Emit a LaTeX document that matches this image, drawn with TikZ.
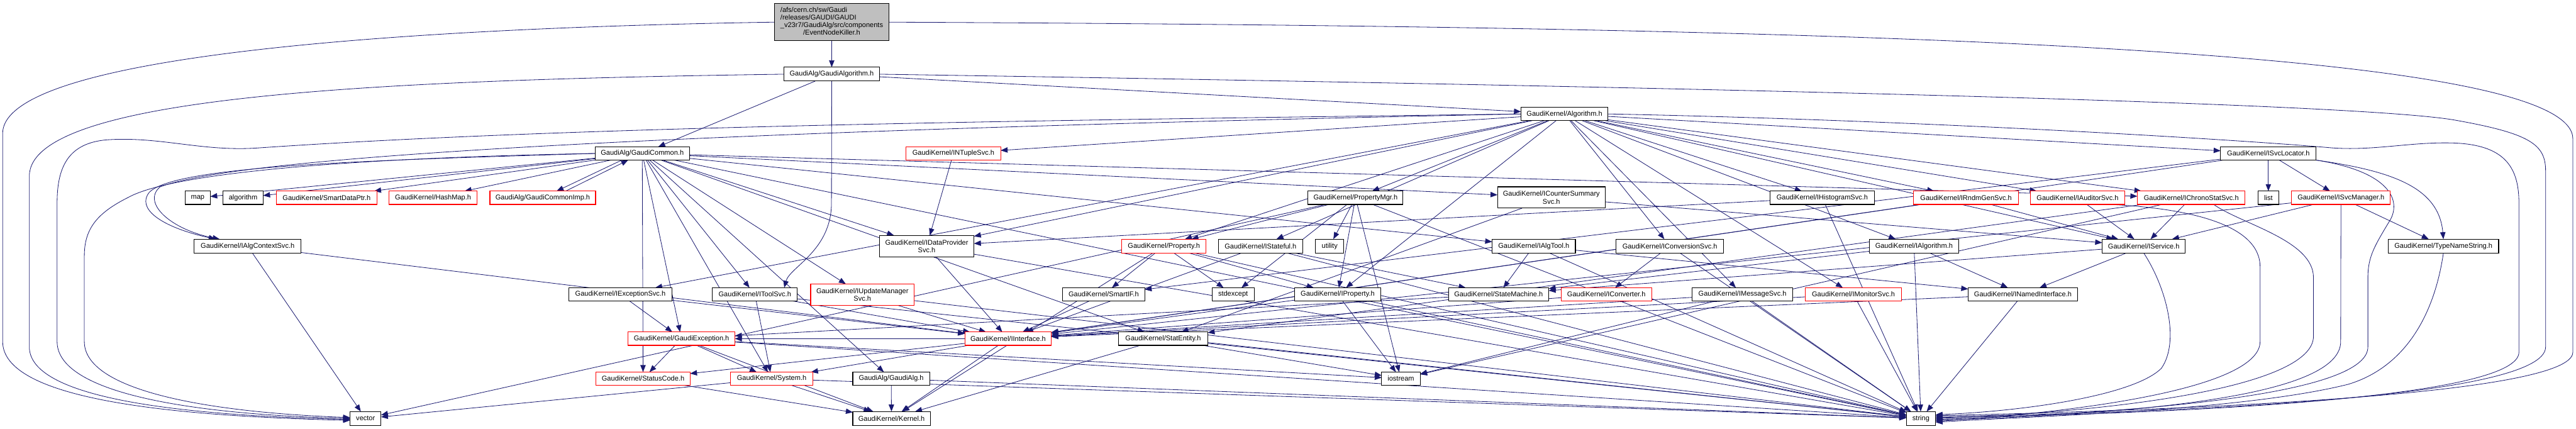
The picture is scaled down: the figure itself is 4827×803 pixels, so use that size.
\documentclass[tikz,border=0pt]{standalone}
\usepackage{fontspec}
\setmainfont{Liberation Sans}
\usetikzlibrary{arrows.meta}
\pgfdeclarelayer{bg}
\pgfsetlayers{bg,main}
\definecolor{edgec}{RGB}{25,25,112}
\definecolor{rootfill}{RGB}{191,191,191}
\newlength\pxu
\setlength\pxu{0.02cm}
\newcommand\gnode[7]{\node[#6, minimum width={#4*\pxu}, minimum height={#5*\pxu}] (#1) at (#2,#3) {#7};}
\newcommand\gedge[2]{\draw[edg] (#1) -- (#2);}
\begin{document}
\begin{tikzpicture}[x=0.02cm, y=-0.02cm,
  every node/.style={font=\fontsize{7.4pt}{8.2pt}\selectfont, inner sep=0pt, outer sep=0pt},
  gbox/.style={draw=black, line width=0.7pt, fill=white, rectangle, align=center},
  rbox/.style={draw=red, line width=0.7pt, fill=white, rectangle, align=center},
  rootbox/.style={draw=black, line width=0.7pt, fill=rootfill, rectangle},
  edg/.style={draw=edgec, line width=0.55pt, -{Triangle[length=0.26cm,width=0.2cm]}}]
\useasboundingbox (0,0) rectangle (4827,803);
% ---------- nodes ----------
\gnode{root}{1558.5}{41.5}{215}{69}{rootbox}{\begin{tabular}{@{}l@{}}/afs/cern.ch/sw/Gaudi\\/releases/GAUDI/GAUDI\\\_v23r7/GaudiAlg/src/components\\\multicolumn{1}{@{}c@{}}{/EventNodeKiller.h}\end{tabular}}
\gnode{galgm}{1558.5}{139}{179}{26}{gbox}{GaudiAlg/GaudiAlgorithm.h}
\gnode{algo}{2931.5}{213.5}{163}{25}{gbox}{GaudiKernel/Algorithm.h}
\gnode{gcommon}{1203.5}{287.5}{177}{25}{gbox}{GaudiAlg/GaudiCommon.h}
\gnode{intuple}{1786.5}{287.5}{177}{25}{rbox}{GaudiKernel/INTupleSvc.h}
\gnode{svcloc}{4250.5}{287.5}{179}{25}{gbox}{GaudiKernel/ISvcLocator.h}
\gnode{map}{370.5}{370.5}{47}{25}{gbox}{map}
\gnode{algorithm}{455.5}{370.5}{75}{25}{gbox}{algorithm}
\gnode{sdptr}{612}{370.5}{188}{25}{rbox}{GaudiKernel/SmartDataPtr.h}
\gnode{hashmap}{811.5}{370.5}{165}{25}{rbox}{GaudiKernel/HashMap.h}
\gnode{gcimp}{1017}{370.5}{198}{25}{rbox}{GaudiAlg/GaudiCommonImp.h}
\gnode{propmgr}{2540}{370.5}{178}{25}{gbox}{GaudiKernel/PropertyMgr.h}
\gnode{icounter}{2907}{370}{202}{40}{gbox}{GaudiKernel/ICounterSummary\\Svc.h}
\gnode{ihisto}{3414.5}{370.5}{195}{25}{gbox}{GaudiKernel/IHistogramSvc.h}
\gnode{irndm}{3684}{370.5}{196}{25}{rbox}{GaudiKernel/IRndmGenSvc.h}
\gnode{iaudit}{3893}{370.5}{176}{25}{rbox}{GaudiKernel/IAuditorSvc.h}
\gnode{ichrono}{4106}{370.5}{202}{25}{rbox}{GaudiKernel/IChronoStatSvc.h}
\gnode{list}{4250.5}{370.5}{39}{25}{gbox}{list}
\gnode{isvcmgr}{4386.5}{370.5}{185}{25}{rbox}{GaudiKernel/ISvcManager.h}
\gnode{ialgctx}{464}{461}{200}{26}{gbox}{GaudiKernel/IAlgContextSvc.h}
\gnode{idp}{1736.5}{461}{177}{40}{gbox}{GaudiKernel/IDataProvider\\Svc.h}
\gnode{prop}{2181}{461}{158}{26}{rbox}{GaudiKernel/Property.h}
\gnode{istateful}{2362}{461}{158}{26}{gbox}{GaudiKernel/IStateful.h}
\gnode{utility}{2491.5}{461}{53}{26}{gbox}{utility}
\gnode{ialgtool}{2874}{461}{156}{26}{gbox}{GaudiKernel/IAlgTool.h}
\gnode{iconvsvc}{3129}{461}{202}{26}{gbox}{GaudiKernel/IConversionSvc.h}
\gnode{ialgorithm}{3586.5}{461}{167}{26}{gbox}{GaudiKernel/IAlgorithm.h}
\gnode{iservice}{4017}{461}{156}{26}{gbox}{GaudiKernel/IService.h}
\gnode{tns}{4578.5}{461}{207}{26}{gbox}{GaudiKernel/TypeNameString.h}
\gnode{iexc}{1162.5}{551.5}{193}{25}{gbox}{GaudiKernel/IExceptionSvc.h}
\gnode{itool}{1414.5}{551.5}{159}{25}{gbox}{GaudiKernel/IToolSvc.h}
\gnode{iupd}{1616}{552}{194}{40}{rbox}{GaudiKernel/IUpdateManager\\Svc.h}
\gnode{smartif}{2068}{551.5}{154}{25}{gbox}{GaudiKernel/SmartIF.h}
\gnode{stdexcept}{2310.5}{551.5}{79}{25}{gbox}{stdexcept}
\gnode{iprop}{2506.5}{551.5}{161}{25}{gbox}{GaudiKernel/IProperty.h}
\gnode{statem}{2808}{551.5}{188}{25}{gbox}{GaudiKernel/StateMachine.h}
\gnode{iconv}{3010}{551.5}{170}{25}{rbox}{GaudiKernel/IConverter.h}
\gnode{imsg}{3265}{551.5}{188}{25}{gbox}{GaudiKernel/IMessageSvc.h}
\gnode{imon}{3473}{551.5}{180}{25}{rbox}{GaudiKernel/IMonitorSvc.h}
\gnode{inamed}{3790.5}{551.5}{205}{25}{gbox}{GaudiKernel/INamedInterface.h}
\gnode{gexc}{1277}{634.5}{200}{25}{rbox}{GaudiKernel/GaudiException.h}
\gnode{iiface}{1889}{634.5}{162}{25}{rbox}{GaudiKernel/IInterface.h}
\gnode{statent}{2179.5}{634.5}{167}{25}{gbox}{GaudiKernel/StatEntity.h}
\gnode{statusc}{1205}{709.5}{176}{25}{rbox}{GaudiKernel/StatusCode.h}
\gnode{system}{1446}{709.5}{154}{25}{rbox}{GaudiKernel/System.h}
\gnode{galg}{1670}{709.5}{144}{25}{gbox}{GaudiAlg/GaudiAlg.h}
\gnode{iostream}{2625}{709.5}{72}{25}{gbox}{iostream}
\gnode{vector}{685}{784}{58}{26}{gbox}{vector}
\gnode{kernel}{1670.5}{784}{145}{26}{gbox}{GaudiKernel/Kernel.h}
\gnode{string}{3599.5}{784}{55}{26}{gbox}{string}
% ---------- edges ----------
\begin{pgfonlayer}{bg}
% root
\gedge{root}{galgm}
\draw[edg] (root.west) .. controls (900,50) and (5,90) .. (5,250) -- (5,640) .. controls (5,745) and (300,779) .. ([yshift=-2pt]vector.west);
\draw[edg] (root.east) .. controls (3500,50) and (4821,90) .. (4821,260) -- (4821,660) .. controls (4821,740) and (4100,768) .. ([yshift=3pt]string.east);
% GaudiAlgorithm
\gedge{galgm}{gcommon}
\gedge{galgm}{algo}
\draw[edg] (galgm.west) .. controls (700,150) and (55,180) .. (55,330) -- (55,650) .. controls (55,745) and (330,778) .. ([yshift=-1pt]vector.west);
\draw[edg] (galgm.east) .. controls (3000,160) and (4400,190) .. (4600,225) .. controls (4740,250) and (4770,270) .. (4770,320) -- (4770,650) .. controls (4770,745) and (4100,772) .. ([yshift=2pt]string.east);
\draw[edg] (galgm.south) -- (1558,380) .. controls (1558,470) and (1480,500) .. ([xshift=1.1cm]itool.north);
% Algorithm
\foreach \h in {propmgr,ihisto,irndm,iaudit,ichrono,svcloc,intuple,idp,iexc,iprop,prop,istateful,ialgorithm,iservice,imsg,imon,iconvsvc} {\gedge{algo}{\h}}
\draw[edg] (algo.west) .. controls (1800,235) and (500,275) .. (300,350) .. controls (265,380) and (320,430) .. ([xshift=-1.05cm]ialgctx.north);
\draw[edg] (algo.west) .. controls (2000,225) and (1100,235) .. (486,277) .. controls (380,285) and (300,255) .. (200,262) .. controls (130,268) and (107,310) .. (107,380) -- (107,640) .. controls (107,735) and (350,776) .. (vector.west);
\draw[edg] (algo.east) .. controls (3600,225) and (4200,262) .. (4369,277) .. controls (4450,283) and (4520,265) .. (4600,268) .. controls (4690,272) and (4720,310) .. (4720,380) -- (4720,660) .. controls (4720,745) and (4100,775) .. ([yshift=1pt]string.east);
% GaudiCommon
\foreach \h in {map,algorithm,sdptr,hashmap,string,gexc,statusc,system,itool,idp,iupd,icounter,ichrono,statent,ialgtool,galg} {\gedge{gcommon}{\h}}
\draw[edg] ([xshift=-0.77cm]gcommon.south) -- ([xshift=0.52cm]gcimp.north);
\draw[edg] ([xshift=0.86cm]gcimp.north) -- ([xshift=-0.53cm]gcommon.south);
\draw[edg] (gcommon.west) .. controls (700,300) and (330,310) .. (280,360) .. controls (255,390) and (300,425) .. ([xshift=-1.2cm]ialgctx.north);
\draw[edg] (gcommon.west) .. controls (700,295) and (330,320) .. (240,370) .. controls (180,400) and (158,430) .. (158,480) -- (158,640) .. controls (158,730) and (380,772) .. ([yshift=1pt]vector.west);
% INTupleSvc
\gedge{intuple}{idp}
% ISvcLocator
\foreach \h in {list,isvcmgr,iiface,smartif} {\gedge{svcloc}{\h}}
\draw[edg] (svcloc.south east) .. controls (4480,320) and (4570,350) .. (tns.north);
\draw[edg] (svcloc.south east) .. controls (4470,320) and (4500,370) .. (4480,410) .. controls (4450,460) and (4437,480) .. (4437,520) -- (4437,650) .. controls (4437,730) and (4100,770) .. ([yshift=-1pt]string.east);
% ISvcManager
\foreach \h in {iservice,tns,iiface} {\gedge{isvcmgr}{\h}}
\draw[edg] (isvcmgr.south) -- (4386,640) .. controls (4386,730) and (4100,772) .. ([yshift=-2pt]string.east);
% IChronoStatSvc
\foreach \h in {iservice,statent,iostream} {\gedge{ichrono}{\h}}
\draw[edg] ([xshift=0.84cm]ichrono.south) .. controls (4200,420) and (4335,450) .. (4335,520) -- (4335,630) .. controls (4335,720) and (4000,770) .. (string.east);
% IAuditorSvc
\gedge{iaudit}{iservice}
\draw[edg] ([xshift=1.2cm]iaudit.south) .. controls (4100,390) and (4235,420) .. (4235,500) -- (4235,640) .. controls (4235,720) and (3950,768) .. ([yshift=-3pt]string.east);
% IRndmGenSvc
\gedge{irndm}{iservice}
\gedge{irndm}{iiface}
% IHistogramSvc
\gedge{ihisto}{idp}
\gedge{ihisto}{string}
% ICounterSummarySvc
\gedge{icounter}{iservice}
\gedge{icounter}{statent}
% PropertyMgr
\foreach \h in {prop,utility,stdexcept,iostream,vector,iprop,string} {\gedge{propmgr}{\h}}
% IAlgContextSvc
\gedge{ialgctx}{vector}
\gedge{ialgctx}{iiface}
% IDataProviderSvc
\gedge{idp}{iiface}
\gedge{idp}{string}
% Property
\foreach \h in {smartif,stdexcept,iprop,string,kernel} {\gedge{prop}{\h}}
% IStateful
\foreach \h in {statem,iiface,string} {\gedge{istateful}{\h}}
% IAlgTool
\foreach \h in {statem,inamed,string} {\gedge{ialgtool}{\h}}
% IConversionSvc
\gedge{iconvsvc}{iconv}
\gedge{iconvsvc}{string}
% IAlgorithm
\foreach \h in {inamed,statem,string} {\gedge{ialgorithm}{\h}}
% IService
\gedge{iservice}{inamed}
\gedge{iservice}{statem}
\draw[edg] (iservice.south) .. controls (4060,540) and (4085,640) .. (4050,690) .. controls (4000,740) and (3800,770) .. ([yshift=4pt]string.east);
% TypeNameString
\draw[edg] (tns.south) .. controls (4560,600) and (4500,690) .. (4400,720) .. controls (4200,770) and (3800,780) .. ([yshift=-4pt]string.east);
% IExceptionSvc
\gedge{iexc}{gexc}
\gedge{iexc}{iiface}
% IToolSvc
\foreach \h in {system,iiface,string} {\gedge{itool}{\h}}
% IUpdateManagerSvc
\gedge{iupd}{iiface}
\gedge{iupd}{string}
% SmartIF
\gedge{smartif}{iiface}
% IProperty
\foreach \h in {iiface,iostream,string} {\gedge{iprop}{\h}}
% StateMachine
\gedge{statem}{gexc}
% IConverter
\gedge{iconv}{iiface}
% IMessageSvc
\foreach \h in {iiface,iostream,string} {\gedge{imsg}{\h}}
% IMonitorSvc
\gedge{imon}{iiface}
\gedge{imon}{string}
% INamedInterface
\gedge{inamed}{iiface}
\gedge{inamed}{string}
% GaudiException
\foreach \h in {statusc,system,kernel,iostream,string} {\gedge{gexc}{\h}}
% IInterface
\foreach \h in {system,statusc,kernel,gexc} {\gedge{iiface}{\h}}
% StatEntity
\foreach \h in {kernel,string,iostream} {\gedge{statent}{\h}}
% StatusCode
\gedge{statusc}{kernel}
% System
\foreach \h in {kernel,string,vector} {\gedge{system}{\h}}
% GaudiAlg
\gedge{galg}{kernel}
\gedge{galg}{string}
\end{pgfonlayer}
\end{tikzpicture}
\end{document}
